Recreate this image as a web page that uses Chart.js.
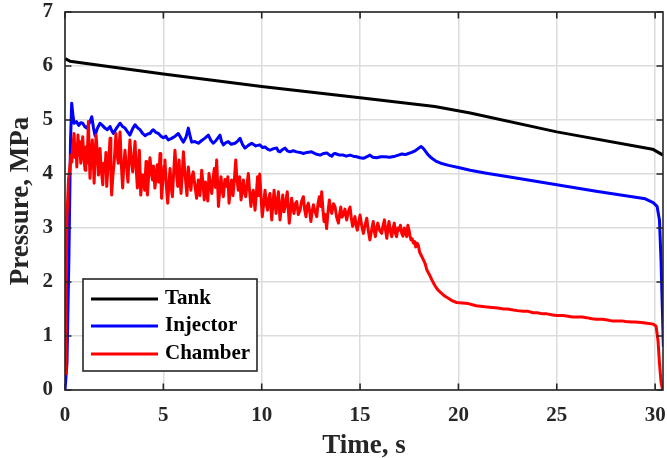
<!DOCTYPE html>
<html><head><meta charset="utf-8">
<script src="https://cdn.jsdelivr.net/npm/chart.js@4.4.1/dist/chart.umd.min.js"></script>
<style>html,body{margin:0;padding:0;background:#fff;overflow:hidden}canvas{display:block}</style>
</head><body>
<canvas id="c" width="667" height="458"></canvas>
<script>
const seriesNames = ['Tank', 'Injector', 'Chamber'];
const seriesColors = ['#000000', '#0000ff', '#ff0000'];
const xTicks = [0, 5, 10, 15, 20, 25, 30];
const yTicks = [0, 1, 2, 3, 4, 5, 6, 7];

// [time s, pressure MPa]
const tankPoints = [[0,6.14],[0.25,6.09],[5,5.85],[10,5.62],[15,5.41],[18.8,5.25],[20.6,5.13],[25,4.78],[29.87,4.46],[30.4,4.35]];

const injectorPoints = [[0,0],[0.1,0.5],[0.2,2.5],[0.28,4.6],[0.34,5.31],[0.4,5.1],[0.46,4.94],[0.58,4.97],[0.7,4.9],[0.8,4.95],[0.9,4.94],[1.0,4.88],[1.1,4.85],[1.25,4.95],[1.36,5.06],[1.45,4.85],[1.53,4.71],[1.65,4.85],[1.78,4.94],[1.9,4.9],[2.03,4.85],[2.15,4.82],[2.29,4.88],[2.38,4.8],[2.46,4.75],[2.62,4.85],[2.8,4.94],[2.92,4.88],[3.05,4.85],[3.18,4.78],[3.3,4.72],[3.44,4.84],[3.56,4.91],[3.68,4.86],[3.81,4.82],[3.95,4.75],[4.07,4.71],[4.2,4.74],[4.32,4.75],[4.42,4.8],[4.49,4.82],[4.62,4.77],[4.75,4.75],[4.88,4.7],[5.0,4.67],[5.12,4.7],[5.25,4.63],[5.42,4.66],[5.6,4.7],[5.76,4.75],[5.9,4.66],[6.02,4.59],[6.15,4.68],[6.27,4.85],[6.36,4.7],[6.44,4.59],[6.6,4.6],[6.78,4.57],[6.95,4.62],[7.1,4.66],[7.29,4.72],[7.42,4.62],[7.54,4.57],[7.7,4.63],[7.88,4.72],[7.96,4.6],[8.05,4.54],[8.18,4.58],[8.3,4.6],[8.45,4.55],[8.64,4.57],[8.78,4.61],[8.9,4.66],[9.02,4.55],[9.15,4.48],[9.32,4.53],[9.49,4.57],[9.7,4.52],[9.9,4.54],[10.05,4.49],[10.17,4.5],[10.3,4.46],[10.42,4.44],[10.6,4.47],[10.76,4.48],[10.85,4.42],[10.93,4.41],[11.05,4.45],[11.19,4.48],[11.3,4.43],[11.44,4.41],[11.6,4.43],[11.78,4.41],[11.95,4.4],[12.12,4.38],[12.3,4.4],[12.54,4.41],[12.75,4.37],[12.97,4.35],[13.15,4.38],[13.31,4.39],[13.45,4.35],[13.56,4.33],[13.65,4.37],[13.73,4.38],[13.95,4.35],[14.15,4.35],[14.3,4.33],[14.49,4.35],[14.65,4.33],[14.83,4.32],[15.0,4.3],[15.17,4.29],[15.35,4.32],[15.5,4.35],[15.65,4.31],[15.84,4.3],[16.05,4.32],[16.27,4.32],[16.5,4.31],[16.78,4.33],[16.95,4.35],[17.12,4.37],[17.3,4.36],[17.46,4.38],[17.62,4.4],[17.8,4.43],[17.95,4.47],[18.1,4.51],[18.2,4.48],[18.31,4.43],[18.45,4.36],[18.65,4.29],[18.85,4.24],[19.1,4.2],[19.5,4.16],[20.0,4.12],[20.6,4.07],[21.35,4.02],[23,3.92],[25,3.8],[27,3.68],[29.5,3.54],[29.9,3.47],[30.1,3.4],[30.22,3.15],[30.3,2.4],[30.36,1.6],[30.42,0.8],[30.5,0]];

const chamberPoints = [[0,0.3],[0.05,1.8],[0.1,3.2],[0.18,3.9],[0.25,4.14],[0.3,4.35],[0.35,4.22],[0.4,4.5],[0.46,4.75],[0.52,4.3],[0.56,4.55],[0.6,4.13],[0.66,4.72],[0.71,4.35],[0.75,4.6],[0.8,4.2],[0.86,4.45],[0.9,4.69],[0.96,4.3],[1.02,4.07],
[1.06,4.5],[1.12,4.2],[1.19,4.97],[1.23,4.4],[1.27,3.92],[1.33,4.35],[1.39,4.63],[1.44,4.25],[1.48,3.83],[1.53,4.3],[1.58,4.72],[1.64,4.4],[1.7,3.98],[1.74,4.25],[1.78,4.47],[1.84,4.1],[1.92,3.8],[1.97,4.2],[2.03,4.04],[2.08,4.4],[2.12,3.77],[2.18,4.1],[2.23,4.3],[2.29,4.66],[2.33,4.1],[2.37,3.61],[2.43,3.95],[2.49,4.17],[2.54,4.45],[2.59,4.75],[2.65,4.35],[2.71,4.2],[2.75,4.5],[2.8,4.78],[2.86,4.2],[2.93,3.74],[2.98,4.1],
[3.05,4.44],[3.1,4.2],[3.14,4.11],[3.2,3.85],[3.25,4.3],[3.3,4.63],[3.37,4.25],[3.44,4.04],[3.5,4.3],[3.56,4.6],[3.62,4.1],[3.68,3.74],[3.73,4.15],[3.78,4.44],[3.82,4.0],[3.85,3.61],[3.92,3.9],[3.98,3.98],[4.05,3.7],[4.12,4.23],[4.16,3.9],[4.19,3.61],[4.25,3.95],[4.32,4.3],[4.38,4.05],[4.45,3.89],[4.5,4.15],[4.57,3.74],[4.63,3.95],[4.69,4.17],[4.76,3.85],[4.83,4.38],[4.87,4.0],[4.91,3.55],[4.98,3.9],
[5.04,4.15],[5.08,4.26],[5.15,3.8],[5.22,3.46],[5.28,3.8],[5.34,4.1],[5.4,3.75],[5.46,3.58],[5.52,4.0],[5.59,4.44],[5.66,4.05],[5.73,3.77],[5.77,4.0],[5.8,4.26],[5.85,3.9],[5.9,3.64],[5.96,4.0],[6.02,4.41],[6.08,4.1],[6.14,3.85],[6.2,3.6],[6.27,4.13],[6.33,3.9],[6.4,3.7],[6.46,3.95],[6.52,4.04],[6.6,3.8],[6.69,3.55],[6.74,3.75],[6.78,3.89],[6.86,3.6],[6.95,4.07],
[7.02,3.8],[7.08,3.52],[7.14,3.85],[7.2,3.7],[7.26,3.5],[7.32,4.01],[7.39,3.8],[7.46,3.64],[7.52,3.9],[7.59,4.1],[7.65,3.75],[7.71,4.26],[7.76,3.8],[7.8,3.4],[7.87,3.7],[7.93,3.95],[7.99,3.7],[8.05,3.58],[8.13,3.9],[8.22,3.77],[8.28,3.95],[8.34,3.46],[8.4,3.7],[8.47,3.89],[8.54,3.6],[8.6,3.85],[8.68,4.26],[8.74,3.9],[8.81,3.7],[8.88,3.95],[8.95,3.52],
[9.01,3.7],[9.07,3.89],[9.13,3.65],[9.19,3.58],[9.25,3.8],[9.32,4.01],[9.38,3.7],[9.45,3.4],[9.51,3.6],[9.57,3.7],[9.62,3.5],[9.66,3.33],[9.72,3.6],[9.79,3.95],[9.84,3.6],[9.9,4.0],[9.97,3.55],[10.03,3.21],[10.1,3.45],[10.17,3.7],[10.23,3.45],[10.3,3.33],[10.36,3.55],[10.42,3.64],[10.47,3.35],[10.51,3.15],[10.57,3.45],[10.63,3.7],[10.68,3.45],[10.73,3.27],[10.79,3.5],[10.85,3.67],[10.89,3.4],[10.93,3.15],
[11.0,3.4],[11.07,3.61],[11.13,3.3],[11.19,3.39],[11.25,3.55],[11.3,3.67],[11.35,3.35],[11.4,3.09],[11.46,3.3],[11.52,3.55],[11.58,3.4],[11.64,3.27],[11.71,3.45],[11.78,3.49],[11.86,3.25],[11.95,3.33],[12.03,3.5],[12.12,3.58],[12.18,3.35],[12.25,3.21],[12.31,3.4],[12.37,3.46],[12.44,3.3],[12.5,3.12],[12.56,3.3],[12.63,3.43],[12.71,3.3],[12.8,3.21],[12.86,3.45],[12.93,3.58],
[13.0,3.4],[13.05,3.67],[13.11,3.35],[13.17,3.12],[13.23,3.25],[13.3,2.99],[13.37,3.3],[13.44,3.52],[13.5,3.35],[13.56,3.27],[13.65,3.45],[13.73,3.39],[13.81,3.2],[13.9,3.09],[13.96,3.25],[14.02,3.39],[14.08,3.2],[14.15,3.24],[14.23,3.35],[14.32,3.15],[14.4,3.3],[14.49,3.39],[14.55,3.2],[14.62,3.03],[14.68,3.15],[14.74,3.21],[14.8,3.05],[14.86,2.96],[14.93,3.1],
[15.0,3.24],[15.08,3.05],[15.17,2.9],[15.25,3.05],[15.34,3.18],[15.42,2.95],[15.5,2.78],[15.58,2.95],[15.67,3.12],[15.72,2.95],[15.78,2.84],[15.84,3.0],[15.9,3.09],[16.0,2.95],[16.1,2.9],[16.17,3.05],[16.24,3.15],[16.3,2.95],[16.36,2.81],[16.42,3.0],[16.47,3.12],[16.54,2.95],[16.61,2.84],[16.68,3.0],[16.74,3.09],[16.8,2.9],[16.86,2.84],[16.92,3.0],[16.98,2.96],
[17.05,3.05],[17.12,2.9],[17.18,2.85],[17.25,3.0],[17.31,2.92],[17.37,2.84],[17.43,3.05],[17.49,2.96],[17.54,2.85],[17.59,2.78],[17.65,2.8],[17.71,2.72],[17.77,2.75],[17.83,2.65],[17.9,2.72],[17.96,2.68],[18.03,2.55],[18.1,2.5],[18.22,2.41],[18.3,2.35],[18.4,2.22],[18.52,2.14],[18.65,2.04],[18.78,1.95],[18.9,1.88],[19.02,1.83],[19.15,1.79],[19.3,1.74],[19.49,1.7],[19.7,1.65],[19.91,1.62],[20.2,1.61],[20.5,1.6],[20.9,1.56],[21.35,1.54],
[21.7,1.53],[22,1.52],[22.3,1.5],[22.5,1.5],[22.8,1.48],[23,1.47],[23.3,1.46],[23.5,1.46],[23.8,1.43],[24,1.43],[24.3,1.41],[24.5,1.41],[24.8,1.39],[25,1.38],[25.3,1.38],[25.5,1.37],[25.8,1.35],[26,1.35],[26.3,1.35],[26.5,1.34],[26.8,1.32],[27,1.31],[27.3,1.31],[27.5,1.3],[27.8,1.28],[28,1.28],[28.3,1.28],[28.5,1.27],[28.8,1.26],[29,1.26],[29.3,1.25],[29.5,1.24],[29.9,1.22],[30.05,1.18],[30.15,0.9],[30.22,0.5],[30.3,0.15],[30.38,0]];

const seriesPoints = [tankPoints, injectorPoints, chamberPoints];

const FONT = '"Liberation Serif", "Times New Roman", serif';
const INK = '#262626';

const frameLegend = {
  id: 'frameLegend',
  afterDatasetsDraw(chart) {
    const ctx = chart.ctx;
    const a = chart.chartArea;
    const xs = chart.scales.x, ys = chart.scales.y;
    ctx.save();
    ctx.strokeStyle = INK;
    ctx.lineWidth = 1.6;
    ctx.strokeRect(a.left, a.top, a.right - a.left, a.bottom - a.top);
    const tl = 6.5;
    ctx.beginPath();
    xTicks.forEach(v => {
      const px = xs.getPixelForValue(v);
      ctx.moveTo(px, a.bottom); ctx.lineTo(px, a.bottom - tl);
      ctx.moveTo(px, a.top); ctx.lineTo(px, a.top + tl);
    });
    yTicks.forEach(v => {
      const py = ys.getPixelForValue(v);
      ctx.moveTo(a.left, py); ctx.lineTo(a.left + tl, py);
      ctx.moveTo(a.right, py); ctx.lineTo(a.right - tl, py);
    });
    ctx.stroke();

    const lx = a.left + 18, ly = a.top + 267, lw = 174, lh = 92;
    ctx.fillStyle = '#ffffff';
    ctx.fillRect(lx, ly, lw, lh);
    ctx.lineWidth = 1.6;
    ctx.strokeStyle = INK;
    ctx.strokeRect(lx, ly, lw, lh);
    const rows = [20, 47, 75];
    ctx.font = 'bold 21px ' + FONT;
    ctx.textBaseline = 'middle';
    ctx.textAlign = 'left';
    seriesNames.forEach((name, i) => {
      const yy = ly + rows[i];
      ctx.strokeStyle = seriesColors[i];
      ctx.lineWidth = 3;
      ctx.beginPath();
      ctx.moveTo(lx + 8, yy); ctx.lineTo(lx + 75, yy);
      ctx.stroke();
      ctx.fillStyle = '#000';
      ctx.fillText(name, lx + 82, yy);
    });
    ctx.restore();
  }
};

const datasets = seriesNames.map((name, i) => ({
  label: name,
  data: seriesPoints[i].map(p => ({ x: p[0], y: p[1] })),
  borderColor: seriesColors[i],
  backgroundColor: seriesColors[i],
  borderWidth: 3,
  pointRadius: 0,
  tension: 0,
  fill: false,
  borderJoinStyle: 'round',
  order: 3 - i
}));

new Chart(document.getElementById('c'), {
  type: 'line',
  data: { datasets },
  options: {
    responsive: false,
    animation: false,
    devicePixelRatio: 1,
    layout: { padding: { top: 12, right: 4, left: 0, bottom: 0 } },
    plugins: { legend: { display: false }, tooltip: { enabled: false } },
    scales: {
      x: {
        type: 'linear', min: 0, max: 30.4,
        afterBuildTicks: s => { s.ticks = xTicks.map(v => ({ value: v })); },
        afterFit: s => { s.height = 68; s.paddingLeft = 0; s.paddingRight = 0; },
        grid: { color: '#dcdcdc', lineWidth: 1.5, drawTicks: false },
        border: { display: false },
        ticks: { padding: 13, autoSkip: false, maxRotation: 0, color: INK,
                 font: { family: FONT, weight: 'bold', size: 21 } },
        title: { display: true, text: 'Time, s', color: INK,
                 font: { family: FONT, weight: 'bold', size: 27, lineHeight: 0.9 },
                 padding: { top: 0, bottom: 0 } }
      },
      y: {
        type: 'linear', min: 0, max: 7,
        afterBuildTicks: s => { s.ticks = yTicks.map(v => ({ value: v })); },
        afterFit: s => { s.width = 65; s.paddingTop = 0; s.paddingBottom = 0; },
        grid: { color: '#dcdcdc', lineWidth: 1.5, drawTicks: false },
        border: { display: false },
        ticks: { padding: 12, color: INK,
                 font: { family: FONT, weight: 'bold', size: 21 } },
        title: { display: true, text: 'Pressure, MPa', color: INK,
                 font: { family: FONT, weight: 'bold', size: 27, lineHeight: 1 },
                 padding: { top: 8, bottom: 0 } }
      }
    }
  },
  plugins: [frameLegend]
});
</script>
</body></html>
